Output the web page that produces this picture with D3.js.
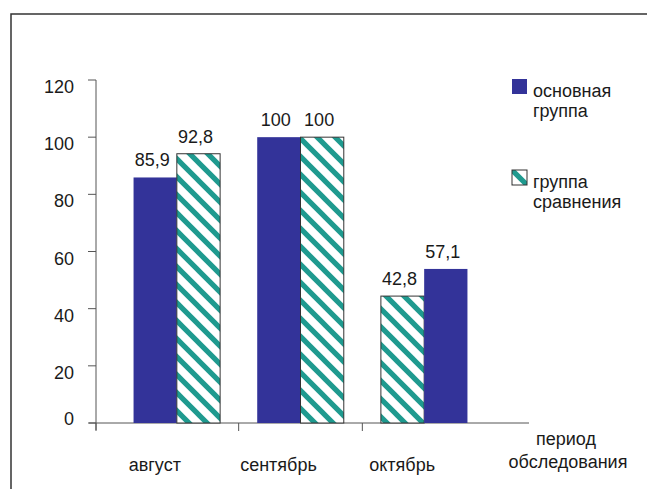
<!DOCTYPE html>
<html>
<head>
<meta charset="utf-8">
<script src="https://cdn.jsdelivr.net/npm/d3@7"></script>
<style>
    body { margin: 0; background: #fff; }
    svg { display: block; }
    text { font-family: "Liberation Sans", Arial, sans-serif; fill: #1a1a1a; }
</style>
</head>
<body>
<div id="chart"></div>
<script>
// Data
const categories = ["август", "сентябрь", "октябрь"];
const seriesNames = ["основная группа", "группа сравнения"];
// bar heights as drawn
const mainValues = [85.9, 100, 53.9];
const compareValues = [94.2, 100, 44.4];
// value labels as printed
const mainLabels = ["85,9", "100", "57,1"];
const compareLabels = ["92,8", "100", "42,8"];
// which series sits on the left in each group
const leftSeries = ["main", "main", "compare"];
const yTicks = [0, 20, 40, 60, 80, 100, 120];

const width = 647, height = 489;
const mainColor = "#333399";
const hatchColor = "#1f9a8f";

const svg = d3.select("#chart")
    .append("svg")
    .attr("width", width)
    .attr("height", height);

// Hatch pattern for the comparison group
const P = 18;
const defs = svg.append("defs");
const pattern = defs.append("pattern")
    .attr("id", "hatch")
    .attr("patternUnits", "userSpaceOnUse")
    .attr("width", P)
    .attr("height", P);
pattern.append("rect")
    .attr("width", P)
    .attr("height", P)
    .attr("fill", "#fff");
pattern.append("path")
    .attr("d", `M-3,-3 L${P + 3},${P + 3} M-4,${P - 4} L4,${P + 4} M${P - 4},-4 L${P + 4},4`)
    .attr("stroke", hatchColor)
    .attr("stroke-width", 5.2);

// Outer frame (cut off on right and bottom)
svg.append("rect")
    .attr("x", 11)
    .attr("y", 14)
    .attr("width", 700)
    .attr("height", 600)
    .attr("fill", "none")
    .attr("stroke", "#333")
    .attr("stroke-width", 1.5);

// Scales
const yScale = d3.scaleLinear()
    .domain([0, 120])
    .range([423, 80]);

const xScale = d3.scaleBand()
    .domain(categories)
    .range([115, 486])
    .paddingInner(0.3)
    .paddingOuter(0.15);

const xSub = d3.scaleBand()
    .domain([0, 1])
    .range([0, xScale.bandwidth()]);

const axisColor = "#555";

// Y axis
const yAxis = svg.append("g");
yAxis.append("line")
    .attr("x1", 96).attr("x2", 96)
    .attr("y1", yScale(120)).attr("y2", 430)
    .attr("stroke", axisColor);
yAxis.selectAll(".ytick")
    .data(yTicks)
    .enter()
    .append("line")
    .attr("x1", 88).attr("x2", 96)
    .attr("y1", d => yScale(d)).attr("y2", d => yScale(d))
    .attr("stroke", axisColor);
yAxis.selectAll(".ylabel")
    .data(yTicks)
    .enter()
    .append("text")
    .attr("x", 74)
    .attr("y", d => yScale(d) + (d === 0 ? 2 : 13))
    .attr("text-anchor", "end")
    .style("font-size", "18px")
    .text(d => d);

// X axis
const step = xScale.step();
const xTicks = [96].concat(categories.slice(0, -1).map(c => xScale(c) + xScale.bandwidth() + step * 0.15));
svg.append("line")
    .attr("x1", 89).attr("x2", 529)
    .attr("y1", yScale(0)).attr("y2", yScale(0))
    .attr("stroke", axisColor);
svg.selectAll(".xtick")
    .data(xTicks)
    .enter()
    .append("line")
    .attr("x1", d => d).attr("x2", d => d)
    .attr("y1", yScale(0)).attr("y2", yScale(0) + 8)
    .attr("stroke", axisColor);

svg.selectAll(".xlabel")
    .data(categories)
    .enter()
    .append("text")
    .attr("x", d => xScale(d) + xScale.bandwidth() / 2 - 22)
    .attr("y", 471)
    .attr("text-anchor", "middle")
    .style("font-size", "18px")
    .text(d => d);

// Axis title
const xTitle = svg.append("text")
    .attr("text-anchor", "middle")
    .style("font-size", "18px");
xTitle.append("tspan").attr("x", 566).attr("y", 445).text("период");
xTitle.append("tspan").attr("x", 568).attr("y", 468).text("обследования");

// Bars
const bars = [];
categories.forEach((c, i) => {
    const order = leftSeries[i] === "main" ? ["main", "compare"] : ["compare", "main"];
    order.forEach((s, j) => {
        bars.push({
            category: c,
            series: s,
            slot: j,
            value: s === "main" ? mainValues[i] : compareValues[i],
            label: s === "main" ? mainLabels[i] : compareLabels[i]
        });
    });
});

svg.selectAll(".bar")
    .data(bars)
    .enter()
    .append("rect")
    .attr("class", "bar")
    .attr("x", d => xScale(d.category) + xSub(d.slot))
    .attr("y", d => yScale(d.value))
    .attr("width", xSub.bandwidth())
    .attr("height", d => yScale(0) - yScale(d.value))
    .attr("fill", d => d.series === "main" ? mainColor : "url(#hatch)")
    .attr("stroke", d => d.series === "main" ? "none" : "#333")
    .attr("stroke-width", 1);

svg.selectAll(".bar-label")
    .data(bars)
    .enter()
    .append("text")
    .attr("x", d => xScale(d.category) + xSub(d.slot) + xSub.bandwidth() / 2 - 3)
    .attr("y", d => yScale(d.value) - 11)
    .attr("text-anchor", "middle")
    .style("font-size", "18px")
    .text(d => d.label);

// Legend
const legendItems = [
    { fill: mainColor, stroke: "none", lines: ["основная", "группа"], y: 79 },
    { fill: "url(#hatch)", stroke: "#333", lines: ["группа", "сравнения"], y: 170 }
];
const legend = svg.selectAll(".legend")
    .data(legendItems)
    .enter()
    .append("g")
    .attr("transform", d => `translate(512,${d.y})`);
legend.append("rect")
    .attr("width", 15)
    .attr("height", 15)
    .attr("fill", d => d.fill)
    .attr("stroke", d => d.stroke);
legend.each(function (d) {
    const t = d3.select(this).append("text")
        .style("font-size", "18px");
    d.lines.forEach((line, k) => {
        t.append("tspan").attr("x", 21).attr("y", 18 + k * 20).text(line);
    });
});
</script>
</body>
</html>
